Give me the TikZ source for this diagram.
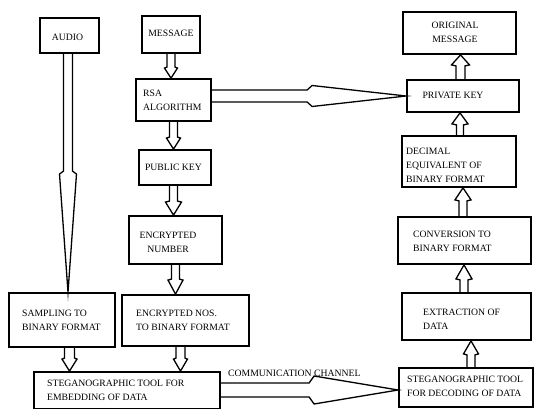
\documentclass[tikz,border=0pt]{standalone}
\usepackage{fontspec}
\setmainfont{Liberation Serif}
\usetikzlibrary{calc,backgrounds}
\tikzset{
  box/.style={draw, line width=1.8pt, inner sep=0pt},
  lbl/.style={font=\fontsize{9.7}{14}\selectfont, inner sep=0pt, align=left},
  clbl/.style={font=\fontsize{9.7}{14}\selectfont, inner sep=0pt, align=center},
  arr/.style={draw, fill=white, line width=1.3pt, line join=miter, miter limit=20}
}
% vertical block arrow: from, to, x, shaft hw, head hw, head len, step
\newcommand\varr[7]{%
 \path[arr] let \p1=(#1),\p2=(#2),\n1={(\y2>\y1)?1:-1} in
  ({#3pt-#4pt},\y1) -- ({#3pt-#4pt},{\y2-(\n1)*#6pt}) -- ({#3pt-#5pt},{\y2-(\n1)*(#6pt-#7pt)})
  -- (#3pt,\y2) -- ({#3pt+#5pt},{\y2-(\n1)*(#6pt-#7pt)}) -- ({#3pt+#4pt},{\y2-(\n1)*#6pt})
  -- ({#3pt+#4pt},\y1);}
% horizontal block arrow: from, to, y, shaft hw, head hw, head len, step
\newcommand\harr[7]{%
 \path[arr] let \p1=(#1),\p2=(#2),\n1={(\x2>\x1)?1:-1} in
  (\x1,{#3pt+#4pt}) -- ({\x2-(\n1)*#6pt},{#3pt+#4pt}) -- ({\x2-(\n1)*(#6pt-#7pt)},{#3pt+#5pt})
  -- (\x2,#3pt) -- ({\x2-(\n1)*(#6pt-#7pt)},{#3pt-#5pt}) -- ({\x2-(\n1)*#6pt},{#3pt-#4pt})
  -- (\x1,{#3pt-#4pt});}
\begin{document}
\begin{tikzpicture}[x=1pt,y=1pt]
\useasboundingbox (0,0) rectangle (542,408);
% boxes
\node[box, minimum width=59pt, minimum height=35pt] (audio) at (69.5,372.5) {};
\node[box, minimum width=58pt, minimum height=37pt] (msg) at (171,373.5) {};
\node[box, minimum width=75pt, minimum height=42pt] (rsa) at (173.5,308) {};
\node[box, minimum width=72pt, minimum height=35pt] (pub) at (175,240.5) {};
\node[box, minimum width=93pt, minimum height=48pt] (enc) at (175.5,168) {};
\node[box, minimum width=106pt, minimum height=54pt] (samp) at (62,88) {};
\node[box, minimum width=127pt, minimum height=51pt] (encnos) at (185.5,87.5) {};
\node[box, minimum width=186pt, minimum height=37pt] (embed) at (127,17.5) {};
\node[box, minimum width=113pt, minimum height=42pt] (orig) at (459.5,375) {};
\node[box, minimum width=112pt, minimum height=32pt] (priv) at (463,312) {};
\node[box, minimum width=114pt, minimum height=51pt] (dec) at (459,246.5) {};
\node[box, minimum width=133pt, minimum height=47pt] (conv) at (464.5,167.5) {};
\node[box, minimum width=129pt, minimum height=47pt] (extr) at (466.5,91.5) {};
\node[box, minimum width=134pt, minimum height=39pt] (decode) at (466,20.5) {};
% labels
\node[clbl] (tAudio) at (67.5,371) {AUDIO};
\node[clbl] (tMsg) at (171,375) {MESSAGE};
\node[lbl, anchor=west] (tRsa) at (143,308) {RSA\\ALGORITHM};
\node[clbl] (tPub) at (173.5,241) {PUBLIC KEY};
\node[clbl] (tEnc) at (168,165.5) {ENCRYPTED\\NUMBER};
\node[lbl, anchor=west] (tSamp) at (22,88) {SAMPLING TO\\BINARY FORMAT};
\node[lbl, anchor=west] (tEncnos) at (136,88) {ENCRYPTED NOS.\\TO BINARY FORMAT};
\node[lbl, anchor=west] (tEmbed) at (47,18) {STEGANOGRAPHIC TOOL FOR\\EMBEDDING OF DATA};
\node[clbl] (tOrig) at (455,376) {ORIGINAL\\MESSAGE};
\node[clbl] (tPriv) at (453,313) {PRIVATE KEY};
\node[lbl, anchor=west] (tDec) at (406,243) {DECIMAL\\EQUIVALENT OF\\BINARY FORMAT};
\node[lbl, anchor=west] (tConv) at (413,166.5) {CONVERSION TO\\BINARY FORMAT};
\node[lbl, anchor=west] (tExtr) at (423,89) {EXTRACTION OF\\DATA};
\node[lbl, anchor=west] (tDecode) at (407,21.5) {STEGANOGRAPHIC TOOL\\FOR DECODING OF DATA};
\node[lbl, anchor=west] (tComm) at (228,35) {COMMUNICATION CHANNEL};
% arrows behind boxes
\begin{pgfonlayer}{background}
\varr{msg.south}{rsa.north}{171}{4}{6.5}{11}{1}
\varr{rsa.south}{pub.north}{173.5}{4}{7}{12}{1}
\varr{pub.south}{enc.north}{173.5}{4}{8}{14}{1}
\varr{enc.south}{encnos.north}{175.5}{4}{7.5}{15}{1}
\varr{samp.south}{embed.north}{69.5}{5}{7.5}{13}{1}
\varr{encnos.south}{embed.north}{180.5}{4.5}{7}{13}{1}
\varr{audio.south}{samp.north}{68}{4.5}{8.5}{121}{3}
\varr{decode.north}{extr.south}{471}{4}{7.5}{14}{1}
\varr{extr.north}{conv.south}{464}{4}{8}{15}{1}
\varr{conv.north}{dec.south}{463}{4}{8}{13}{1}
\varr{dec.north}{priv.south}{460}{3.5}{8}{12}{1}
\varr{priv.north}{orig.south}{460.5}{4.5}{9}{11}{1}
\harr{rsa.east}{priv.west}{312}{6}{10.5}{99}{5}
\harr{embed.east}{decode.west}{18}{7}{14}{89}{5}
\end{pgfonlayer}
\end{tikzpicture}
\end{document}
